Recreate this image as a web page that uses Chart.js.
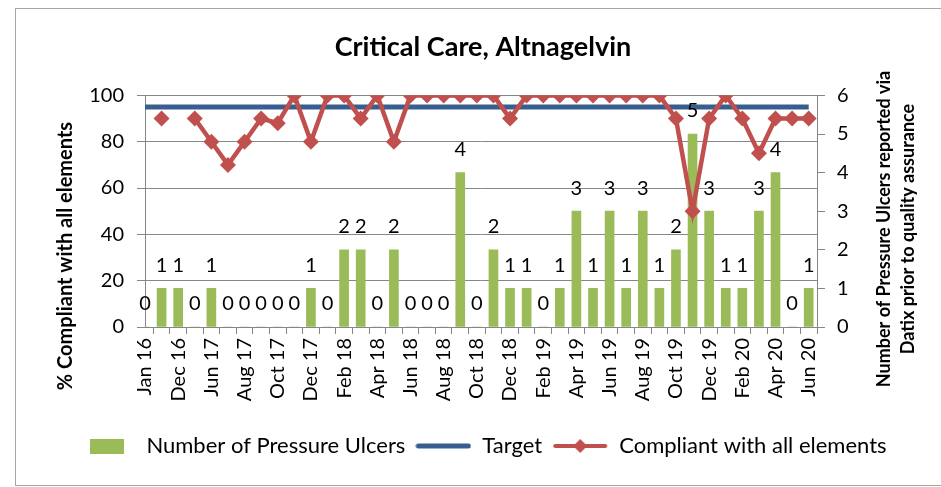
<!DOCTYPE html>
<html>
<head>
<meta charset="utf-8">
<script src="https://cdn.jsdelivr.net/npm/chart.js@4"></script>
<style>
    html, body { margin: 0; padding: 0; background: #fff; }
    #wrap { width: 941px; height: 487px; }
</style>
</head>
<body>
<div id="wrap"><canvas id="chartCC"></canvas></div>
<script>
/** data */
const categories = ["Jan 16", "Jun 16", "Dec 16", "Mar 17", "Jun 17", "Jul 17", "Aug 17", "Sep 17", "Oct 17", "Nov 17",
    "Dec 17", "Jan 18", "Feb 18", "Mar 18", "Apr 18", "May 18", "Jun 18", "Jul 18", "Aug 18", "Sep 18",
    "Oct 18", "Nov 18", "Dec 18", "Jan 19", "Feb 19", "Mar 19", "Apr 19", "May 19", "Jun 19", "Jul 19",
    "Aug 19", "Sep 19", "Oct 19", "Nov 19", "Dec 19", "Jan 20", "Feb 20", "Mar 20", "Apr 20", "May 20", "Jun 20"];

const pressureUlcers = [0, 1, 1, 0, 1, 0, 0, 0, 0, 0,
    1, 0, 2, 2, 0, 2, 0, 0, 0, 4,
    0, 2, 1, 1, 0, 1, 3, 1, 3, 1,
    3, 1, 2, 5, 3, 1, 1, 3, 4, 0, 1];

const compliant = [null, 90, null, 90, 80, 70, 80, 90, 88, 100,
    80, 100, 100, 90, 100, 80, 100, 100, 100, 100,
    100, 100, 90, 100, 100, 100, 100, 100, 100, 100,
    100, 100, 90, 50, 90, 100, 90, 75, 90, 90, 90];

const target = categories.map(() => 95);

const leftTicks = [0, 20, 40, 60, 80, 100];
const rightTicks = [0, 1, 2, 3, 4, 5, 6];

const GREEN = "#9BBB59";
const BLUE = "#375E8E";
const RED = "#C0504D";
const FONT = "Lato";
const PAD_LEFT = 25;

/** legend swatches */
function swatch(w, h, draw) {
    const c = document.createElement("canvas");
    c.width = w; c.height = h;
    draw(c.getContext("2d"));
    return c;
}
const barSwatch = swatch(34, 15, g => { g.fillStyle = GREEN; g.fillRect(0, 0, 34, 15); });
const targetSwatch = swatch(56, 6, g => {
    g.strokeStyle = BLUE; g.lineWidth = 5; g.lineCap = "round";
    g.beginPath(); g.moveTo(3, 3); g.lineTo(53, 3); g.stroke();
});
const compSwatch = swatch(56, 16, g => {
    g.strokeStyle = RED; g.lineWidth = 4; g.lineCap = "round";
    g.beginPath(); g.moveTo(3, 8); g.lineTo(53, 8); g.stroke();
    g.fillStyle = RED;
    g.beginPath(); g.moveTo(28, 1); g.lineTo(35, 8); g.lineTo(28, 15); g.lineTo(21, 8); g.closePath(); g.fill();
});
const swatches = [barSwatch, targetSwatch, compSwatch];

/** plugin: frame, axis titles, bar value labels */
const extras = {
    id: "extras",
    beforeDraw(chart) {
        const ctx = chart.ctx;
        ctx.save();
        ctx.strokeStyle = "#a6a6a6";
        ctx.lineWidth = 1;
        ctx.strokeRect(15.5, 8.5, 940, 477);
        ctx.restore();
    },
    afterDatasetsDraw(chart) {
        const ctx = chart.ctx;
        const meta = chart.getDatasetMeta(0);
        ctx.save();
        ctx.font = `20px ${FONT}`;
        ctx.fillStyle = "#000";
        ctx.textAlign = "center";
        ctx.textBaseline = "middle";
        meta.data.forEach((bar, i) => {
            ctx.fillText(String(pressureUlcers[i]), bar.x, bar.y - 23);
        });
        ctx.restore();
    },
    afterDraw(chart) {
        const ctx = chart.ctx;
        ctx.save();
        ctx.fillStyle = "#000";
        ctx.textAlign = "center";
        ctx.textBaseline = "middle";
        ctx.font = `bold 20px ${FONT}`;
        ctx.translate(66, 256);
        ctx.rotate(-Math.PI / 2);
        ctx.fillText("% Compliant with all elements", 0, 0);
        ctx.restore();

        ctx.save();
        ctx.fillStyle = "#000";
        ctx.textAlign = "center";
        ctx.textBaseline = "middle";
        ctx.font = `bold 18px ${FONT}`;
        ctx.translate(884, 229);
        ctx.rotate(-Math.PI / 2);
        ctx.fillText("Number of Pressure Ulcers reported via", 0, 0);
        ctx.fillText("Datix prior to quality assurance", 0, 24);
        ctx.restore();
    }
};

new Chart(document.getElementById("chartCC"), {
    type: "bar",
    data: {
        labels: categories,
        datasets: [
            {
                label: "Number of Pressure Ulcers",
                data: pressureUlcers,
                backgroundColor: GREEN,
                yAxisID: "yRight",
                barThickness: 9,
                order: 3
            },
            {
                type: "line",
                label: "Target",
                data: target,
                borderColor: BLUE,
                backgroundColor: BLUE,
                borderWidth: 5,
                pointRadius: 0,
                yAxisID: "yLeft",
                order: 2
            },
            {
                type: "line",
                label: "Compliant with all elements",
                data: compliant,
                borderColor: RED,
                backgroundColor: RED,
                borderWidth: 4.5,
                pointStyle: "rectRot",
                pointRadius: 8,
                pointBackgroundColor: RED,
                pointBorderWidth: 0,
                spanGaps: false,
                yAxisID: "yLeft",
                order: 1
            }
        ]
    },
    options: {
        responsive: true,
        maintainAspectRatio: false,
        animation: false,
        layout: { padding: { left: PAD_LEFT, right: 0, top: 0, bottom: 20 } },
        plugins: {
            title: {
                display: true,
                text: "Critical Care, Altnagelvin",
                color: "#000",
                font: { family: FONT, size: 27, weight: "bold" },
                padding: { top: 31, bottom: 32 }
            },
            legend: {
                position: "bottom",
                labels: {
                    color: "#000",
                    font: { family: FONT, size: 22 },
                    usePointStyle: true,
                    pointStyleWidth: 56,
                    padding: 10,
                    sort: (a, b) => a.datasetIndex - b.datasetIndex,
                    generateLabels(chart) {
                        const items = Chart.defaults.plugins.legend.labels.generateLabels(chart);
                        items.forEach(it => { it.pointStyle = swatches[it.datasetIndex]; });
                        return items;
                    }
                }
            },
            tooltip: { enabled: false }
        },
        scales: {
            x: {
                offset: false,
                // leave half a category of room after the last point, as in the original
                afterBuildTicks(scale) { scale._valueRange = categories.length - 0.5; },
                afterFit(scale) { scale.height = 98; },
                grid: { display: true, drawOnChartArea: false, color: "#868686", tickLength: 7 },
                border: { color: "#868686" },
                ticks: {
                    autoSkip: false,
                    maxRotation: 90,
                    minRotation: 90,
                    color: "#000",
                    padding: 4,
                    font: { family: FONT, size: 20 },
                    callback: (v, i) => (i % 2 === 0 ? categories[i] : "")
                }
            },
            yLeft: {
                position: "left",
                min: 0,
                max: 100,
                afterFit(scale) { scale.width = 145 - PAD_LEFT; },
                afterBuildTicks(scale) { scale.ticks = leftTicks.map(v => ({ value: v })); },
                grid: { color: "#878787", tickLength: 8 },
                border: { color: "#868686" },
                ticks: { color: "#000", padding: 13, font: { family: FONT, size: 20 } }
            },
            yRight: {
                position: "right",
                min: 0,
                max: 6,
                afterFit(scale) { scale.width = 124; },
                afterBuildTicks(scale) { scale.ticks = rightTicks.map(v => ({ value: v })); },
                grid: { drawOnChartArea: false, color: "#868686", tickLength: 8 },
                border: { color: "#868686" },
                ticks: { color: "#000", padding: 12, font: { family: FONT, size: 20 } }
            }
        }
    },
    plugins: [extras]
});
</script>
</body>
</html>
